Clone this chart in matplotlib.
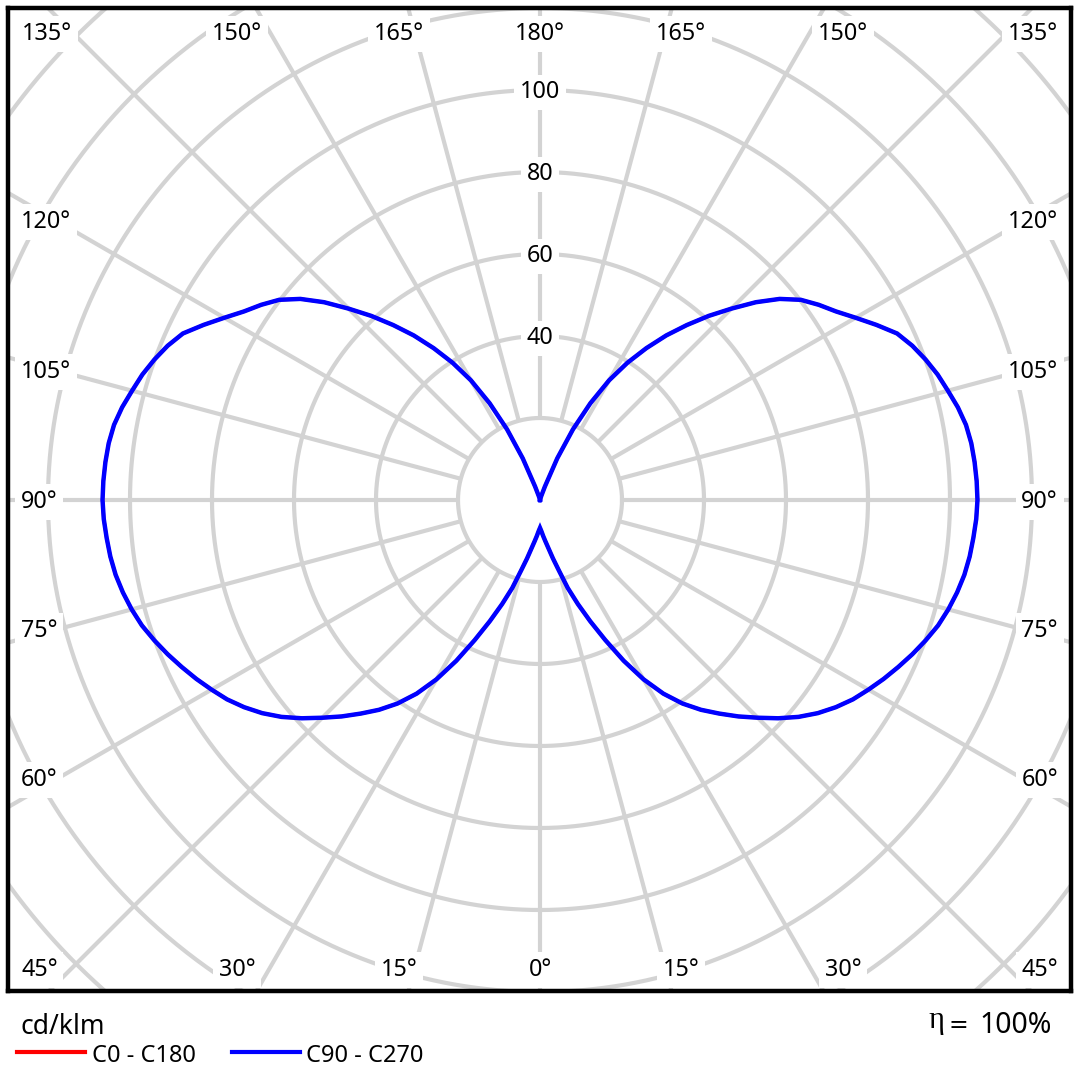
import numpy as np
import matplotlib
matplotlib.use("Agg")
import matplotlib.pyplot as plt
from matplotlib.lines import Line2D

plt.rcParams['font.family'] = ['Noto Sans', 'DejaVu Sans']

# intensity in cd/klm, gamma 0..180 deg in 2.5 deg steps (0 = straight down)
gamma = np.arange(0, 180.1, 2.5)
c90 = [6.8, 7.6, 8.8, 10.2, 12.0, 14.6, 17.8, 22.5, 27.0, 32.0,
       37.7, 44.2, 50.5, 56.0, 60.6, 64.5, 68.0, 71.6, 75.1, 78.8,
       82.3, 85.4, 88.1, 90.5, 92.5, 94.5, 96.4, 98.3, 100.1, 101.8,
       103.1, 104.2, 105.1, 105.7, 106.1, 106.5, 106.7,
       106.6, 106.4, 106.1, 105.5, 104.4, 103.0, 101.7, 100.1, 98.3,
       96.1, 92.5, 88.9, 85.6, 83.0, 80.2, 76.3, 71.4, 66.0, 60.9,
       55.7, 50.6, 45.2, 39.7, 33.7, 26.6, 19.0, 11.0, 3.5, 1.0,
       0.3, 0.0, 0.0, 0.0, 0.0, 0.0, 0.0]
c270 = list(c90)   # symmetric lobe
c0 = list(c90)     # C0-C180 lies under the blue curve
c180 = list(c90)

rings = [20, 40, 60, 80, 100, 120, 140, 160, 180]
ring_labels = [40, 60, 80, 100]
spokes = np.arange(0, 360, 15)

# angle labels: text, x px, baseline px, alignment
angle_labels = [
    ("135°", 22, 40, "left"), ("150°", 237, 40, "center"),
    ("165°", 399, 40, "center"), ("180°", 540, 40, "center"),
    ("165°", 681, 40, "center"), ("150°", 843, 40, "center"),
    ("135°", 1058, 40, "right"),
    ("120°", 21, 228, "left"), ("105°", 21, 378, "left"),
    ("90°", 21, 508, "left"), ("75°", 21, 637, "left"),
    ("60°", 21, 786, "left"), ("45°", 21, 976, "left"),
    ("120°", 1058, 228, "right"), ("105°", 1058, 378, "right"),
    ("90°", 1058, 508, "right"), ("75°", 1058, 637, "right"),
    ("60°", 1058, 786, "right"), ("45°", 1058, 976, "right"),
    ("30°", 237, 976, "center"), ("15°", 399, 976, "center"),
    ("0°", 540, 976, "center"), ("15°", 681, 976, "center"),
    ("30°", 843, 976, "center"),
]

W = 1080
SCALE = 4.1          # px per cd/klm
CX, CY = 540, 500    # pole position in px
L, T, R, B = 8, 8, 1071, 991
GRID = "#d3d3d3"


def px2data(x, y):
    return (x - CX) / SCALE, (CY - y) / SCALE


fig = plt.figure(figsize=(10.8, 10.8), dpi=100)
ax = fig.add_axes([L / W, 1 - B / W, (R - L) / W, (B - T) / W])
ax.set_xlim((L - CX) / SCALE, (R - CX) / SCALE)
ax.set_ylim((CY - B) / SCALE, (CY - T) / SCALE)
ax.set_xticks([])
ax.set_yticks([])
for s in ax.spines.values():
    s.set_linewidth(3.2)
    s.set_color("black")
    s.set_zorder(10)

# grid
t = np.linspace(0, 2 * np.pi, 1441)
for r in rings:
    ax.plot(r * np.cos(t), r * np.sin(t), color=GRID, lw=3.0, zorder=1)
for a in spokes:
    g = np.radians(a)
    ax.plot([20 * np.sin(g), 220 * np.sin(g)], [-20 * np.cos(g), -220 * np.cos(g)],
            color=GRID, lw=3.0, zorder=1, solid_capstyle="butt")

box = dict(facecolor="white", edgecolor="none", pad=4)
for r in ring_labels:
    ax.text(0, r - 8.4 / SCALE, str(r), ha="center", va="baseline",
            fontsize=16.8, bbox=box, zorder=3)
for txt, x, y, ha in angle_labels:
    xd, yd = px2data(x, y)
    ax.text(xd, yd, txt, ha=ha, va="baseline", fontsize=16.8, bbox=box, zorder=3)


def plane(right, left):
    g = np.radians(gamma)
    right = np.asarray(right)
    left = np.asarray(left)
    xs = np.concatenate([-left[::-1] * np.sin(g[::-1]), right[1:] * np.sin(g[1:])])
    ys = np.concatenate([-left[::-1] * np.cos(g[::-1]), -right[1:] * np.cos(g[1:])])
    return xs, ys


x0, y0 = plane(c0, c180)
ax.plot(x0, y0, color="red", lw=2.4, zorder=4)
x90, y90 = plane(c90, c270)
ax.plot(x90, y90, color="#0000ff", lw=3.2, zorder=5, solid_joinstyle="miter")

# footer
fig.text(21 / W, 1 - 1034 / W, "cd/klm", fontsize=19, ha="left", va="baseline")
fig.add_artist(Line2D([17 / W, 85 / W], [1 - 1052 / W] * 2, color="red", lw=3.0))
fig.text(92 / W, 1 - 1062 / W, "C0 - C180", fontsize=17, ha="left", va="baseline")
fig.add_artist(Line2D([232 / W, 300 / W], [1 - 1052 / W] * 2, color="#0000ff", lw=3.0))
fig.text(306 / W, 1 - 1062 / W, "C90 - C270", fontsize=17, ha="left", va="baseline")
fig.text(928 / W, 1 - 1028 / W, "η", fontsize=22, ha="left", va="baseline",
         family=["Liberation Serif", "DejaVu Serif"])
fig.text(958 / W, 1 - 1022 / W, "=", fontsize=17, ha="center", va="center_baseline",
         family=["DejaVu Sans"])
fig.text(979 / W, 1 - 1033 / W, "100%", fontsize=20.5, ha="left", va="baseline")

fig.savefig("out.png", dpi=100, facecolor="white")
